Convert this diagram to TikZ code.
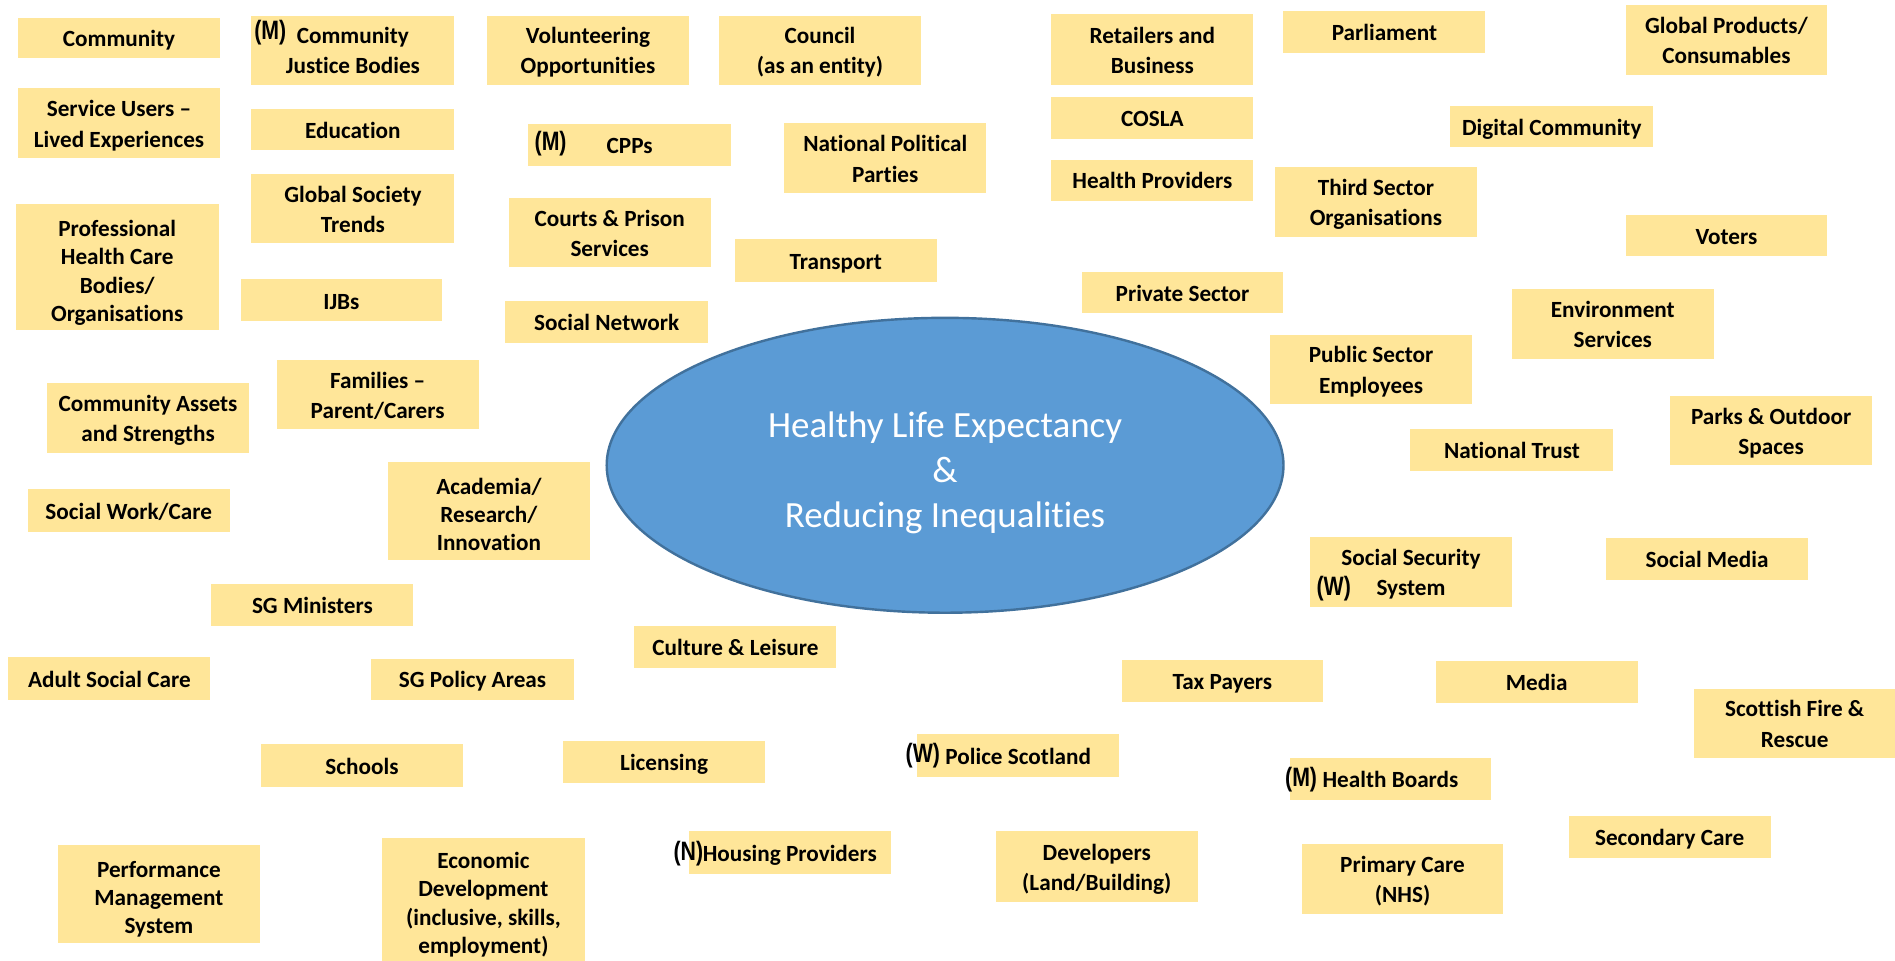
\documentclass[tikz,border=0pt]{standalone}
\usepackage{fontspec}
\setmainfont[Ligatures=NoCommon]{Carlito}
\newfontfamily\narrowfont[FakeStretch=0.8]{Liberation Sans}
\usetikzlibrary{shapes.geometric}
\definecolor{boxfill}{HTML}{FFE699}
\definecolor{ellfill}{HTML}{5B9BD5}
\definecolor{elldraw}{HTML}{41719C}
\tikzset{
  bx/.style={fill=boxfill, draw=none, inner sep=0pt,
    font=\bfseries\fontsize{9.6}{12.5}\selectfont},
  bxm/.style={bx, font=\bfseries\fontsize{9.6}{11.7}\selectfont},
  pre/.style={anchor=west, inner sep=0pt, font=\narrowfont\bfseries\fontsize{11}{12}\selectfont},
  hub/.style={ellipse, fill=ellfill, draw=elldraw, line width=1pt, inner sep=0pt,
    text=white, font=\fontsize{15.3}{18.7}\selectfont}
}
\newcommand\lines[2]{\raisebox{#1}[\height][\depth]{\begin{tabular}{@{}c@{}}#2\end{tabular}}}
\newcommand\bx[7][bx]{\node[#1, minimum width={(#5-#3)*0.5pt}, minimum height={(#6-#4)*0.5pt}] (#2) at ({(#3+#5)/2},{(#4+#6)/2}) {\lines{-1.1pt}{#7}};}
\newcommand\bxmulti[6]{\node[bxm, minimum width={(#4-#2)*0.5pt}, minimum height={(#5-#3)*0.5pt}] (#1) at ({(#2+#4)/2},{(#3+#5)/2}) {\lines{-2.6pt}{#6}};}
\begin{document}
\begin{tikzpicture}[x=0.5pt,y=-0.5pt]
\useasboundingbox (0,0) rectangle (1568,795);
\node[hub, minimum width=280pt, minimum height=122pt] (hub) at (782,385)
  {\lines{-3.4pt}{Healthy Life Expectancy\\\&\\Reducing Inequalities}};
\bx{community}{15}{15}{182}{48}{Community}
\bx{cjb}{208}{13}{376}{70}{Community\\Justice Bodies}
\bx{volunteer}{403}{13}{570}{70}{Volunteering\\Opportunities}
\bx{council}{595}{13}{762}{70}{Council\\(as an entity)}
\bx{retail}{870}{12}{1037}{70}{Retailers and\\Business}
\bx{parliament}{1062}{9}{1229}{44}{Parliament}
\bx{global}{1345}{4}{1512}{62}{Global Products/\\Consumables}
\bx{service}{15}{73}{182}{131}{Service Users --\\Lived Experiences}
\bx{education}{208}{90}{376}{124}{Education}
\bx{cpps}{437}{103}{605}{137}{CPPs}
\bx{npp}{649}{102}{816}{160}{National Political\\Parties}
\bx{cosla}{870}{80}{1037}{115}{COSLA}
\bx{digital}{1200}{88}{1368}{122}{Digital Community}
\bx{gst}{208}{144}{376}{201}{Global Society\\Trends}
\bx{healthprov}{870}{132}{1037}{166}{Health Providers}
\bx{third}{1055}{138}{1222}{196}{Third Sector\\Organisations}
\bxmulti{prof}{13}{169}{181}{273}{Professional\\Health Care\\Bodies/\\Organisations}
\bx{courts}{421}{164}{588}{221}{Courts \& Prison\\Services}
\bx{transport}{608}{198}{775}{233}{Transport}
\bx{voters}{1345}{178}{1512}{212}{Voters}
\bx{ijbs}{199}{231}{366}{266}{IJBs}
\bx{socnet}{418}{249}{586}{284}{Social Network}
\bx{private}{895}{225}{1062}{259}{Private Sector}
\bx{environ}{1251}{239}{1418}{297}{Environment\\Services}
\bx{pubsec}{1051}{277}{1218}{334}{Public Sector\\Employees}
\bx{families}{229}{298}{396}{355}{Families --\\Parent/Carers}
\bx{assets}{39}{317}{206}{375}{Community Assets\\and Strengths}
\bx{parks}{1382}{328}{1549}{385}{Parks \& Outdoor\\Spaces}
\bx{trust}{1167}{355}{1335}{390}{National Trust}
\bxmulti{academia}{321}{382}{488}{463}{Academia/\\Research/\\Innovation}
\bx{socwork}{23}{405}{190}{440}{Social Work/Care}
\bx{socsec}{1084}{444}{1251}{502}{Social Security\\System}
\bx{socmedia}{1329}{445}{1496}{480}{Social Media}
\bx{sgmin}{175}{483}{342}{518}{SG Ministers}
\bx{culture}{525}{518}{692}{553}{Culture \& Leisure}
\bx{adult}{7}{544}{174}{579}{Adult Social Care}
\bx{sgpol}{307}{545}{475}{579}{SG Policy Areas}
\bx{tax}{928}{546}{1095}{581}{Tax Payers}
\bx{media}{1188}{547}{1355}{582}{Media}
\bx{fire}{1402}{570}{1568}{627}{Scottish Fire \&\\Rescue}
\bx{schools}{216}{616}{383}{651}{Schools}
\bx{licensing}{466}{613}{633}{648}{Licensing}
\bx{police}{759}{607}{926}{643}{Police Scotland}
\bx{hboards}{1067}{627}{1234}{662}{Health Boards}
\bx{secondary}{1298}{675}{1465}{710}{Secondary Care}
\bx{housing}{570}{688}{737}{723}{Housing Providers}
\bx{developers}{824}{688}{991}{746}{Developers\\(Land/Building)}
\bx{primary}{1077}{698}{1244}{756}{Primary Care\\(NHS)}
\bxmulti{perf}{48}{699}{215}{780}{Performance\\Management\\System}
\bxmulti{econ}{316}{693}{484}{795}{Economic\\Development\\(inclusive, skills,\\employment)}
\node[pre] (pcjb) at (210,27) {(M)};
\node[pre] (pcpps) at (442,119) {(M)};
\node[pre] (psocsec) at (1089,487) {(W)};
\node[pre] (ppolice) at (749,625) {(W)};
\node[pre] (phboards) at (1063,645) {(M)};
\node[pre] (phousing) at (557,706) {(N)};
\end{tikzpicture}
\end{document}
